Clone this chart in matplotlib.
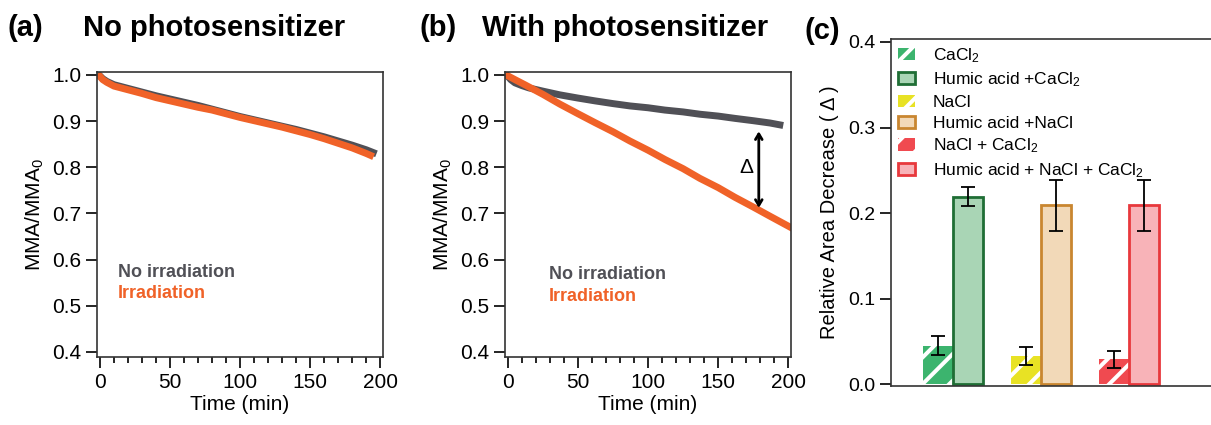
import numpy as np
import matplotlib
matplotlib.use("Agg")
import matplotlib.pyplot as plt
from matplotlib.ticker import MultipleLocator, FormatStrFormatter

# the figure is drawn at 80 dpi so that the '/' hatch has the right spacing;
# K turns sizes picked for 100 dpi into points at 80 dpi
DPI = 80
K = 100 / DPI

plt.rcParams['font.family'] = ['Liberation Sans', 'DejaVu Sans']
plt.rcParams['mathtext.fontset'] = 'custom'
plt.rcParams['mathtext.rm'] = 'Liberation Sans'
plt.rcParams['mathtext.it'] = 'Liberation Sans:italic'
plt.rcParams['hatch.linewidth'] = 3.6

# panel (a): no photosensitizer
t_a = [0, 2, 5, 10, 20, 30, 40, 50, 60, 70, 80, 90, 100, 110, 120, 130, 140, 150, 160, 170, 180, 190, 195]
dark_a = [0.998, 0.992, 0.986, 0.979, 0.971, 0.963, 0.955, 0.948, 0.941, 0.934, 0.926, 0.918, 0.910,
          0.903, 0.896, 0.889, 0.882, 0.874, 0.866, 0.857, 0.848, 0.838, 0.832]
t_a_irr = [0, 2, 5, 10, 20, 30, 40, 50, 60, 70, 80, 90, 100, 110, 120, 130, 140, 150, 160, 170, 180, 190, 193]
irr_a = [0.997, 0.990, 0.984, 0.976, 0.968, 0.960, 0.951, 0.944, 0.937, 0.930, 0.924, 0.916, 0.908,
         0.901, 0.894, 0.887, 0.879, 0.871, 0.862, 0.852, 0.842, 0.830, 0.826]

# panel (b): with photosensitizer
t_b = [0, 2, 5, 10, 15, 25, 37, 50, 62, 75, 87, 100, 112, 125, 137, 150, 162, 175, 187, 194]
dark_b = [0.997, 0.990, 0.983, 0.977, 0.972, 0.965, 0.957, 0.950, 0.944, 0.938, 0.933, 0.929,
          0.924, 0.920, 0.915, 0.911, 0.906, 0.901, 0.896, 0.892]
t_b_irr = [0, 5, 12, 25, 37, 50, 62, 75, 87, 100, 112, 125, 137, 150, 162, 175, 187, 201]
irr_b = [0.998, 0.990, 0.979, 0.958, 0.937, 0.916, 0.897, 0.877, 0.857, 0.837, 0.817, 0.797,
         0.776, 0.756, 0.735, 0.714, 0.694, 0.671]

# panel (c): relative area decrease
salts = ['CaCl$_2$', 'NaCl', 'NaCl + CaCl$_2$']
humic_labels = ['Humic acid +CaCl$_2$', 'Humic acid +NaCl', 'Humic acid + NaCl + CaCl$_2$']
salt_only = [0.045, 0.033, 0.029]
salt_only_err = [0.011, 0.011, 0.010]
with_humic = [0.219, 0.209, 0.209]
with_humic_err = [0.011, 0.030, 0.030]

c_dark = '#505056'
c_irr = '#f06228'
hatch_colors = ['#3cb46e', '#e8e224', '#f04a50']
humic_faces = ['#a9d5b5', '#f2d9b8', '#f8b3b8']
humic_edges = ['#1f6e35', '#c98630', '#e8383c']


def style_spines(ax):
    for s in ax.spines.values():
        s.set_linewidth(1.2 * K)
        s.set_color('#333333')


def style_time_axis(ax):
    ax.set_xlim(-2.1, 202)
    ax.set_ylim(0.389, 1.0065)
    ax.xaxis.set_major_locator(MultipleLocator(50))
    ax.xaxis.set_minor_locator(MultipleLocator(10))
    ax.yaxis.set_major_locator(MultipleLocator(0.1))
    ax.tick_params(which='major', direction='out', length=8 * K, width=1.2 * K,
                   labelsize=15 * K, pad=3.5 * K)
    ax.tick_params(which='minor', direction='out', length=4 * K, width=1.2 * K)
    ax.set_xlabel('Time (min)', fontsize=15 * K, labelpad=2 * K)
    ax.set_ylabel('MMA/MMA$_0$', fontsize=15 * K, labelpad=4 * K)
    style_spines(ax)


fig = plt.figure(figsize=(1211 / DPI, 425 / DPI), dpi=DPI)

ax1 = fig.add_axes([0.0801, 0.16, 0.2362, 0.6706])
ax1.plot(t_a, dark_a, color=c_dark, lw=5 * K)
ax1.plot(t_a_irr, irr_a, color=c_irr, lw=5 * K)
style_time_axis(ax1)
ax1.text(13, 0.571, 'No irradiation', color=c_dark, fontsize=13 * K, fontweight='bold', va='center')
ax1.text(13, 0.526, 'Irradiation', color=c_irr, fontsize=13 * K, fontweight='bold', va='center')

ax2 = fig.add_axes([0.417, 0.16, 0.2362, 0.6706])
ax2.plot(t_b, dark_b, color=c_dark, lw=5 * K)
ax2.plot(t_b_irr, irr_b, color=c_irr, lw=5 * K)
style_time_axis(ax2)
ax2.text(29, 0.567, 'No irradiation', color=c_dark, fontsize=13 * K, fontweight='bold', va='center')
ax2.text(29, 0.520, 'Irradiation', color=c_irr, fontsize=13 * K, fontweight='bold', va='center')
ax2.annotate('', xy=(179, 0.712), xytext=(179, 0.878),
             arrowprops=dict(arrowstyle='<->,head_length=0.5,head_width=0.3', color='black',
                             lw=2.0 * K, shrinkA=0, shrinkB=0))
ax2.text(170, 0.80, 'Δ', fontsize=15 * K, ha='center', va='center')

ax3 = fig.add_axes([0.7358, 0.0918, 0.28, 0.8165])
x = np.arange(len(salts))
w = 0.34
for i in range(len(salts)):
    ax3.bar(x[i] - w / 2, salt_only[i], w, color=hatch_colors[i], edgecolor='white',
            hatch='/', linewidth=0, label=salts[i])
    ax3.bar(x[i] + w / 2, with_humic[i], w, color=humic_faces[i], edgecolor=humic_edges[i],
            linewidth=2 * K, label=humic_labels[i])
ax3.errorbar(x - w / 2, salt_only, yerr=salt_only_err, fmt='none', ecolor='black',
             elinewidth=1.3 * K, capsize=5 * K, capthick=1.3 * K)
ax3.errorbar(x + w / 2, with_humic, yerr=with_humic_err, fmt='none', ecolor='black',
             elinewidth=1.3 * K, capsize=5 * K, capthick=1.3 * K)
ax3.set_xlim(-0.705, 3.147)
ax3.set_ylim(-0.002, 0.4035)
ax3.set_xticks([])
ax3.yaxis.set_major_locator(MultipleLocator(0.1))
ax3.yaxis.set_major_formatter(FormatStrFormatter('%.1f'))
ax3.tick_params(axis='y', direction='out', length=8 * K, width=1.2 * K, labelsize=14 * K, pad=3.5 * K)
ax3.set_ylabel('Relative Area Decrease ( Δ )', fontsize=14.5 * K, labelpad=6 * K)
style_spines(ax3)
ax3.legend(loc='upper left', bbox_to_anchor=(0.0, 1.0), frameon=False, fontsize=12.5 * K,
           handlelength=1.0, handleheight=0.7, handletextpad=1.0, labelspacing=0.33,
           borderpad=0.2, borderaxespad=0.2)

fig.text(0.0066, 0.934, '(a)', fontsize=21 * K, fontweight='bold', va='center')
fig.text(0.0685, 0.934, 'No photosensitizer', fontsize=21 * K, fontweight='bold', va='center')
fig.text(0.3468, 0.934, '(b)', fontsize=21 * K, fontweight='bold', va='center')
fig.text(0.398, 0.934, 'With photosensitizer', fontsize=21 * K, fontweight='bold', va='center')
fig.text(0.6647, 0.927, '(c)', fontsize=21 * K, fontweight='bold', va='center')

fig.savefig('out.png', dpi=DPI)
